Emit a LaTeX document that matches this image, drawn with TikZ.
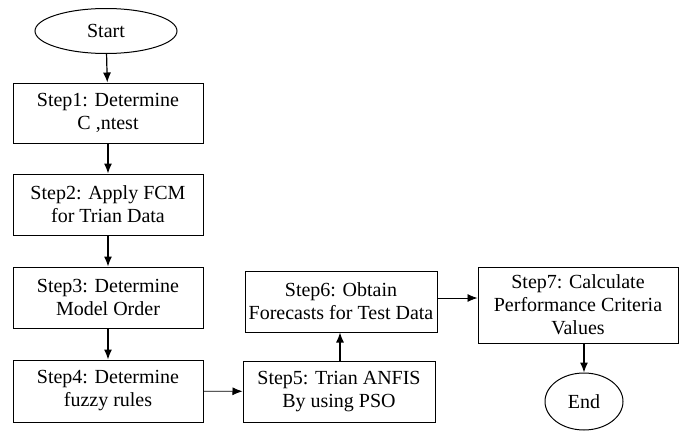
\documentclass[tikz,border=0pt]{standalone}
\usepackage{fontspec}
\setmainfont{Liberation Serif}
\usetikzlibrary{shapes,arrows.meta}
\tikzstyle{stepbox}=[draw,rectangle,line width=1pt,align=center,inner sep=2pt,font=\fontsize{20}{23}\selectfont]
\tikzstyle{term}=[draw,ellipse,line width=1pt,inner sep=0pt,font=\fontsize{20}{23}\selectfont]

\begin{document}
\begin{tikzpicture}[x=1pt,y=-1pt,->,>={Latex[length=10pt,width=8pt]},line width=1.2pt]
				\useasboundingbox (0,0) rectangle (681,431);

				\draw  node [term,minimum width=142pt,minimum height=45pt] at (106,31) (start) {Start};
				\draw  node [stepbox,minimum width=190pt,minimum height=60pt] at (108,113) (s1) {Step1: Determine\\C ,ntest};
				\draw  node [stepbox,minimum width=190pt,minimum height=61pt] at (108,204.5) (s2) {Step2: Apply FCM\\for Trian Data};
				\draw  node [stepbox,minimum width=190pt,minimum height=61pt] at (108,297.5) (s3) {Step3: Determine\\Model Order};
				\draw  node [stepbox,minimum width=190pt,minimum height=62pt] at (108,391) (s4) {Step4: Determine\\fuzzy rules};

				\draw  node [stepbox,minimum width=192pt,minimum height=61pt] at (339,391.5) (s5) {Step5: Trian ANFIS\\By using PSO};
				\draw  node [stepbox,minimum width=192pt,minimum height=61pt] at (341,301.5) (s6) {Step6: Obtain\\Forecasts for Test Data};

				\draw  node [stepbox,minimum width=200pt,minimum height=76pt] at (578,305) (s7) {Step7: Calculate\\Performance Criteria\\Values};
				\draw  node [term,minimum width=78pt,minimum height=57pt] at (584,401.5) (end) {End};

				\path
				(start) edge[] (s1)
				(s1) edge[] (s2)
				(s2) edge[] (s3)
				(s3) edge[] (s4)
				(s4) edge[line width=0.8pt] (s5)
				(s5.north -| 340,0) edge[] (s6.south -| 340,0)
				(s6.east |- 0,298) edge[line width=0.8pt] (s7.west |- 0,298)
				(s7.south -| end) edge[] (end)
				;
\end{tikzpicture}
\end{document}
